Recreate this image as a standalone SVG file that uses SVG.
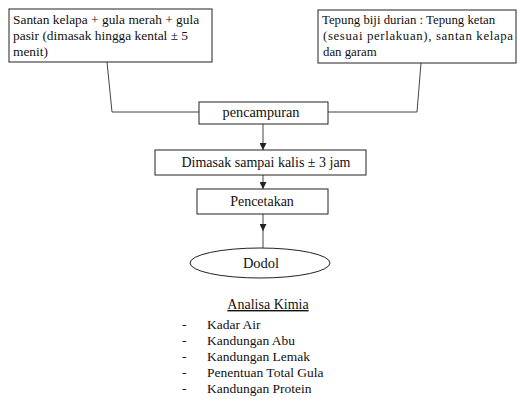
<svg xmlns="http://www.w3.org/2000/svg" width="520" height="403" viewBox="0 0 520 403">
<defs>
<marker id="ah" viewBox="0 0 10 10" refX="10" refY="5" markerWidth="7" markerHeight="7" markerUnits="userSpaceOnUse" orient="auto">
<path d="M0,0 L10,5 L0,10 z" fill="#222"/>
</marker>
<style>
.box{fill:#fff;stroke:#222;stroke-width:1}
.t{font-family:"Liberation Serif","Times New Roman",serif;font-size:13px;fill:#111}
.m{font-size:13.5px}
.c{text-anchor:middle}
.ln{fill:none;stroke:#444;stroke-width:1}
</style>
</defs>
<rect width="520" height="403" fill="#fff"/>
<g id="connectors">
<polyline class="ln" points="107,62 112,112 199,112"/>
<polyline class="ln" points="421,63 417,112 328,112"/>
<line class="ln" x1="263" y1="124" x2="263" y2="150" marker-end="url(#ah)"/>
<line class="ln" x1="263" y1="175" x2="263" y2="189" marker-end="url(#ah)"/>
<line class="ln" x1="263" y1="214" x2="263" y2="231" marker-end="url(#ah)"/>
<line class="ln" x1="263" y1="230" x2="263" y2="248"/>
</g>
<g id="n-santan">
<rect class="box" x="9" y="9" width="203" height="53"/>
<text class="t" x="13" y="24" style="font-size:13.4px">Santan kelapa + gula merah + gula</text>
<text class="t" x="13" y="40" style="font-size:13.4px">pasir (dimasak hingga kental ± 5</text>
<text class="t" x="13" y="56" style="font-size:13.4px">menit)</text>
</g>
<g id="n-tepung">
<rect class="box" x="318" y="10" width="198" height="53"/>
<text class="t" x="322" y="24" style="font-size:12.8px">Tepung biji durian : Tepung ketan</text>
<text class="t" x="323" y="40" style="font-size:12.8px" textLength="190" lengthAdjust="spacing">(sesuai perlakuan), santan kelapa</text>
<text class="t" x="323" y="56" style="font-size:12.8px">dan garam</text>
</g>
<g id="n-pencampuran">
<rect class="box" x="199" y="102" width="129" height="22"/>
<text class="t c" x="261" y="117" style="font-size:14.3px">pencampuran</text>
</g>
<g id="n-dimasak">
<rect class="box" x="155" y="150" width="211" height="25"/>
<text class="t c" x="266" y="167" style="font-size:14px">Dimasak sampai kalis ± 3 jam</text>
</g>
<g id="n-pencetakan">
<rect class="box" x="197" y="189" width="131" height="25"/>
<text class="t c" x="262" y="206" style="font-size:14px">Pencetakan</text>
</g>
<g id="n-dodol">
<ellipse class="box" cx="260" cy="263" rx="70" ry="15"/>
<text class="t c" x="261" y="268" style="font-size:14.5px">Dodol</text>
</g>
<g id="analisa">
<text class="t c" x="268" y="309" style="font-size:14px" text-decoration="underline">Analisa Kimia</text>
<text class="t m" x="182" y="329">-</text><text class="t m" x="207" y="329">Kadar Air</text>
<text class="t m" x="182" y="345">-</text><text class="t m" x="207" y="345">Kandungan Abu</text>
<text class="t m" x="182" y="361">-</text><text class="t m" x="207" y="361">Kandungan Lemak</text>
<text class="t m" x="182" y="377">-</text><text class="t m" x="207" y="377">Penentuan Total Gula</text>
<text class="t m" x="182" y="393">-</text><text class="t m" x="207" y="393">Kandungan Protein</text>
</g>
</svg>
